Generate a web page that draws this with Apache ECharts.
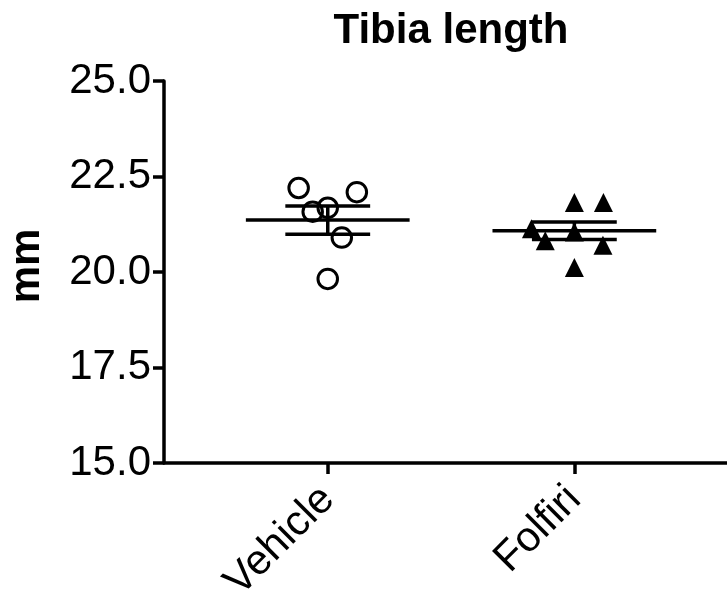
<!DOCTYPE html>
<html>
<head>
<meta charset="utf-8">
<script src="https://cdn.jsdelivr.net/npm/echarts@6/dist/echarts.min.js"></script>
<style>
html,body{margin:0;padding:0;background:#fff;}
#chart{width:727px;height:592px;}
</style>
</head>
<body>
<div id="chart"></div>
<script>
const categories = ['Vehicle', 'Folfiri'];
const vehicleValues = [22.20, 22.09, 21.58, 21.68, 20.90, 19.82];
const vehicleJitter = [-0.118, 0.118, -0.061, 0, 0.057, 0];
const folfiriValues = [21.82, 21.82, 21.13, 21.05, 20.82, 20.70, 20.12];
const folfiriJitter = [0, 0.118, -0.174, 0, -0.118, 0.116, 0];
const groupMeans = [21.36, 21.08];
const groupSEMs = [0.37, 0.23];
const yTickValues = [15, 17.5, 20, 22.5, 25];

const FONT = '"Liberation Sans", Arial, Helvetica, sans-serif';
const MEAN_HALF = 0.332;
const SEM_HALF = 0.172;
const LW = 3.5;

const vehicleData = vehicleValues.map((v, i) => [1 + vehicleJitter[i], v]);
const folfiriData = folfiriValues.map((v, i) => [2 + folfiriJitter[i], v]);
const summaryData = groupMeans.map((m, i) => [i + 1, m, groupSEMs[i]]);

const chart = echarts.init(document.getElementById('chart'), null, {renderer: 'canvas'});
chart.setOption({
  animation: false,
  backgroundColor: '#ffffff',
  title: {
    text: 'Tibia length',
    left: 446,
    top: 5,
    textAlign: 'center',
    textStyle: {fontFamily: FONT, fontSize: 42, fontWeight: 'bold', color: '#000'}
  },
  grid: {left: 164, right: 0, top: 81, bottom: 129, containLabel: false, outerBoundsMode: 'none'},
  xAxis: {
    type: 'value',
    min: 0.336,
    max: 2.619,
    splitLine: {show: false},
    axisLine: {onZero: false, lineStyle: {color: '#000', width: LW}},
    axisTick: {show: true, customValues: [1, 2], length: 11, lineStyle: {color: '#000', width: LW}},
    axisLabel: {
      customValues: [1, 2],
      formatter: v => categories[Math.round(v) - 1],
      rotate: 45,
      margin: 30,
      color: '#000',
      fontFamily: FONT,
      fontSize: 42
    }
  },
  yAxis: {
    type: 'value',
    min: 15,
    max: 25,
    interval: 2.5,
    name: 'mm',
    nameLocation: 'middle',
    nameGap: 116,
    nameRotate: 90,
    nameTextStyle: {fontFamily: FONT, fontSize: 42, fontWeight: 'bold', color: '#000', padding: [0, 0, 0, 12]},
    splitLine: {show: false},
    axisLine: {show: true, onZero: false, lineStyle: {color: '#000', width: LW}},
    axisTick: {show: true, length: 11, lineStyle: {color: '#000', width: LW}},
    axisLabel: {
      formatter: v => (yTickValues.indexOf(v) >= 0 ? v.toFixed(1) : ''),
      margin: 13,
      color: '#000',
      fontFamily: FONT,
      fontSize: 42
    }
  },
  series: [
    {
      name: 'Vehicle',
      type: 'scatter',
      data: vehicleData,
      symbol: 'circle',
      symbolSize: 19.5,
      itemStyle: {color: 'rgba(0,0,0,0)', borderColor: '#000', borderWidth: 3, opacity: 1},
      z: 2
    },
    {
      name: 'Folfiri',
      type: 'scatter',
      data: folfiriData,
      symbol: 'triangle',
      symbolSize: 19,
      itemStyle: {color: '#000', opacity: 1},
      z: 2
    },
    {
      name: 'Mean ± SEM',
      type: 'custom',
      data: summaryData,
      z: 3,
      renderItem: function (params, api) {
        const x = api.value(0), m = api.value(1), s = api.value(2);
        const style = {stroke: '#000', lineWidth: LW};
        const seg = (a, b) => ({
          type: 'line',
          shape: {x1: a[0], y1: a[1], x2: b[0], y2: b[1]},
          style: style
        });
        return {
          type: 'group',
          children: [
            seg(api.coord([x - MEAN_HALF, m]), api.coord([x + MEAN_HALF, m])),
            seg(api.coord([x - SEM_HALF, m + s]), api.coord([x + SEM_HALF, m + s])),
            seg(api.coord([x - SEM_HALF, m - s]), api.coord([x + SEM_HALF, m - s])),
            seg(api.coord([x, m - s]), api.coord([x, m + s]))
          ]
        };
      }
    }
  ]
});
</script>
</body>
</html>
